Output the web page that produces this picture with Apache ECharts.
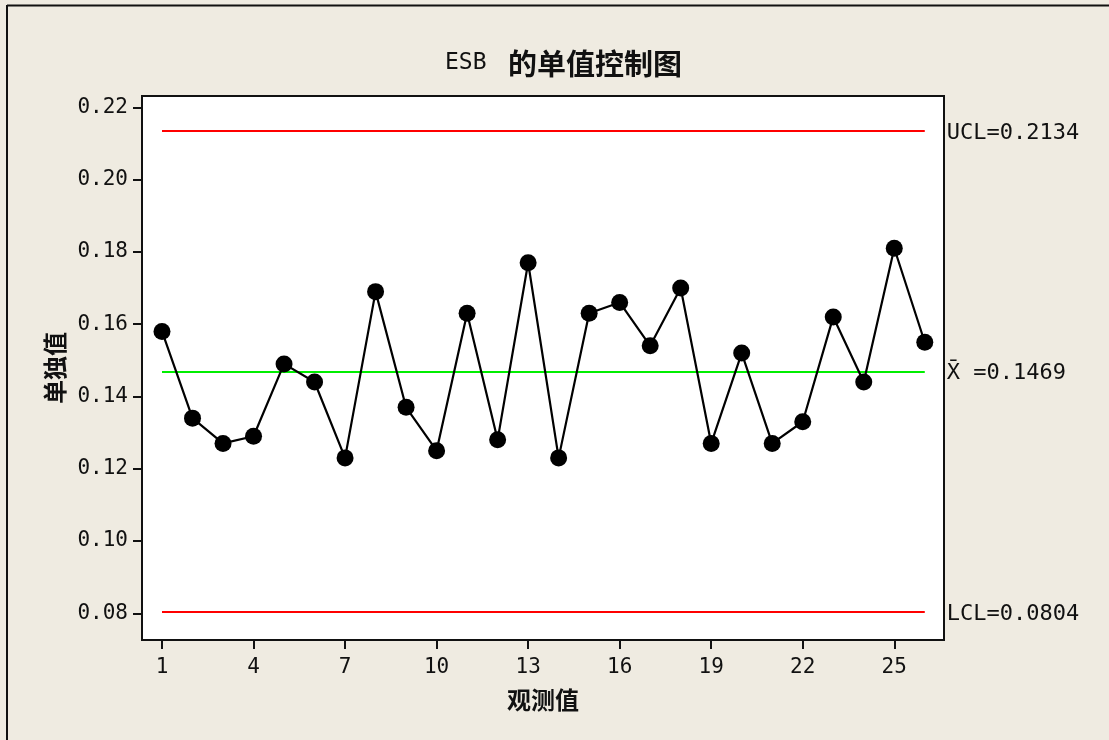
<!DOCTYPE html>
<html>
<head>
<meta charset="utf-8">
<style>
html,body{margin:0;padding:0;background:#efebe1;}
#c{width:1109px;height:740px;}
</style>
<script src="https://cdn.jsdelivr.net/npm/echarts@6/dist/echarts.min.js"></script>
</head>
<body>
<div id="c"></div>
<script>
const observations = [1,2,3,4,5,6,7,8,9,10,11,12,13,14,15,16,17,18,19,20,21,22,23,24,25,26];
const values = [0.158,0.134,0.127,0.129,0.149,0.144,0.123,0.169,0.137,0.125,0.163,0.128,0.177,0.123,0.163,0.166,0.154,0.170,0.127,0.152,0.127,0.133,0.162,0.144,0.181,0.155];
const UCL = 0.2134, CL = 0.1469, LCL = 0.0804;
const xTicks = [1,4,7,10,13,16,19,22,25];
const yTicks = [0.08,0.10,0.12,0.14,0.16,0.18,0.20,0.22];
const limitLabels = ['UCL=0.2134', 'X\u0304 =0.1469', 'LCL=0.0804'];

const mono = "'DejaVu Sans Mono', monospace";
const cjk = "'Noto Sans CJK SC', sans-serif";
const chart = echarts.init(document.getElementById('c'));
const first = observations[0], last = observations[observations.length-1];
function limitLine(v, color, label){
  return [{coord:[first, v], lineStyle:{color:color}, label:{formatter:label}}, {coord:[last, v]}];
}
chart.setOption({
  backgroundColor:'#efebe1',
  animation:false,
  title:{
    text:'{a|ESB}{b|的单值控制图}',
    left:440, top:44,
    textStyle:{rich:{
      a:{fontFamily:mono,fontSize:23,fontWeight:'normal',color:'#111',width:63},
      b:{fontFamily:cjk,fontSize:29,fontWeight:'bold',color:'#111'}
    }}
  },
  graphic:[
    {type:'line',shape:{x1:7,y1:5.5,x2:1109,y2:5.5},style:{stroke:'#111',lineWidth:2}},
    {type:'line',shape:{x1:7,y1:5,x2:7,y2:740},style:{stroke:'#111',lineWidth:2}}
  ],
  grid:{left:142,top:96,right:165,bottom:100,show:true,backgroundColor:'#fff',borderColor:'#111',borderWidth:2},
  xAxis:{
    type:'value', min:0.3445, max:26.63,
    name:'观测值', nameLocation:'middle', nameGap:48,
    nameTextStyle:{fontFamily:cjk,fontSize:24,fontWeight:'bold',color:'#111'},
    axisLine:{lineStyle:{color:'#111',width:2}},
    axisTick:{show:true,length:9,lineStyle:{color:'#111',width:2},customValues:xTicks},
    axisLabel:{customValues:xTicks,fontFamily:mono,fontSize:21,color:'#111',margin:17},
    splitLine:{show:false}
  },
  yAxis:{
    type:'value', min:0.07261, max:0.22313,
    name:'单独值', nameLocation:'middle', nameGap:72,
    nameTextStyle:{fontFamily:cjk,fontSize:24,fontWeight:'bold',color:'#111'},
    axisLine:{show:true,lineStyle:{color:'#111',width:2}},
    axisTick:{show:true,length:9,lineStyle:{color:'#111',width:2},customValues:yTicks},
    axisLabel:{customValues:yTicks,fontFamily:mono,fontSize:21,color:'#111',margin:14,
      formatter:function(v){return v.toFixed(2);}},
    splitLine:{show:false}
  },
  series:[{
    type:'line',
    data:observations.map((x,i)=>[x,values[i]]),
    symbol:'circle', symbolSize:17,
    itemStyle:{color:'#000'},
    lineStyle:{color:'#000',width:2.2},
    z:3,
    markLine:{
      silent:true, symbol:'none', z:2,
      lineStyle:{type:'solid',width:2},
      label:{position:'end',distance:22,fontFamily:mono,fontSize:22,color:'#111',offset:[0,2]},
      data:[
        limitLine(UCL,'#ff0000',limitLabels[0]),
        limitLine(CL,'#00ee00',limitLabels[1]),
        limitLine(LCL,'#ff0000',limitLabels[2])
      ]
    }
  }]
});
</script>
</body>
</html>
